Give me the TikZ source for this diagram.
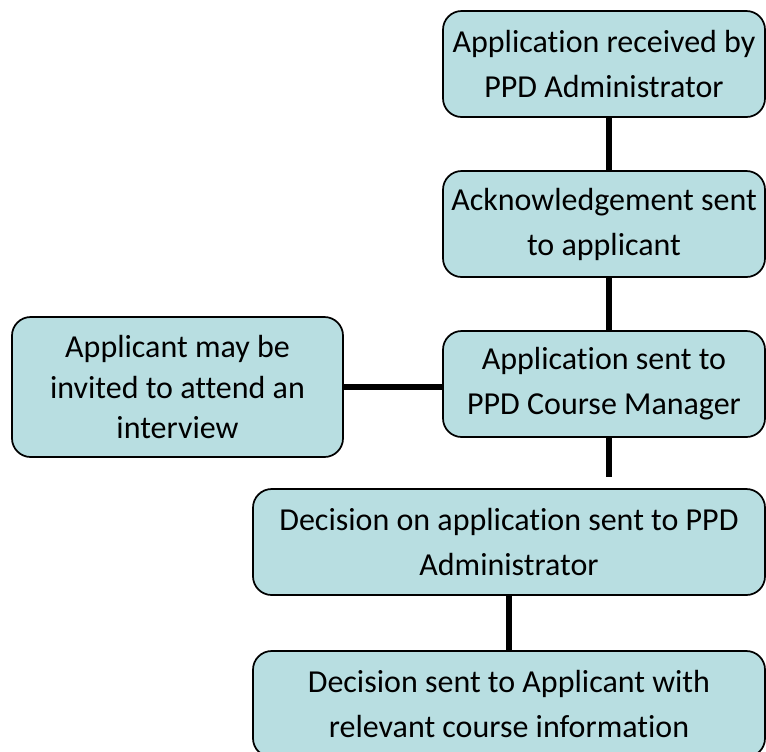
\documentclass[tikz,border=0pt]{standalone}
\usepackage{fontspec}
\setmainfont[Ligatures={NoCommon}]{Carlito}
\definecolor{boxfill}{RGB}{184,222,225}
\begin{document}
\begin{tikzpicture}[x=0.75pt,y=-0.75pt,
  flowbox/.style={draw=black, line width=1.3pt, fill=boxfill, rounded corners=14pt,
    align=center, inner sep=0pt, font=\fontsize{24}{33.75}\selectfont},
  link/.style={line width=3.8pt, draw=black}]
\useasboundingbox (0,0) rectangle (766,751);
\clip (0,0) rectangle (766,751);
\node[flowbox, minimum width=241.5pt, minimum height=79.5pt] (b1) at (604,64) {Application received by\\PPD Administrator};
\node[flowbox, minimum width=241.5pt, minimum height=79.5pt] (b2) at (604,224) {Acknowledgement sent\\to applicant};
\node[flowbox, minimum width=241.5pt, minimum height=79.5pt] (b3) at (604,384) {Application sent to\\PPD Course Manager};
\node[flowbox, minimum width=248.25pt, minimum height=105pt, font=\fontsize{24}{30.5}\selectfont] (b4) at (177.5,387) {Applicant may be\\invited to attend an\\interview};
\node[flowbox, minimum width=384pt, minimum height=79.5pt] (b5) at (509,542) {Decision on application sent to PPD\\Administrator};
\node[flowbox, minimum width=384pt, minimum height=79.5pt] (b6) at (509,704) {Decision sent to Applicant with\\relevant course information};
\coordinate (gapend) at (609,477);
\draw[link] ([xshift=3.75pt]b1.south) -- ([xshift=3.75pt]b2.north);
\draw[link] ([xshift=3.75pt]b2.south) -- ([xshift=3.75pt]b3.north);
\draw[link] ([xshift=3.75pt]b3.south) -- (gapend);
\draw[link] (b4.east) -- (b4.east -| b3.west);
\draw[link] (b5.south) -- (b6.north);
\end{tikzpicture}
\end{document}
